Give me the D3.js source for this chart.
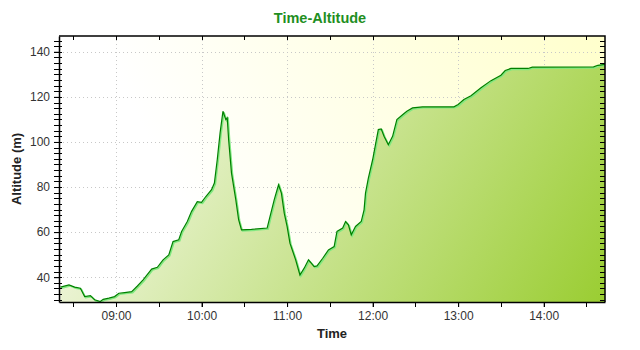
<!DOCTYPE html>
<html>
<head>
<meta charset="utf-8">
<script src="https://cdn.jsdelivr.net/npm/d3@7"></script>
<style>
    body { margin: 0; background: #ffffff; }
    text { font-family: "Liberation Sans", Arial, sans-serif; }
</style>
</head>
<body>
<div id="chart"></div>
<script>
// data
var times = ["08:21", "08:27", "08:31", "08:35", "08:38", "08:42", "08:45", "08:49", "08:51", "08:55",
    "08:59", "09:02", "09:06", "09:11", "09:15", "09:19", "09:25", "09:29", "09:33", "09:37",
    "09:40", "09:44", "09:46", "09:50", "09:53", "09:57", "10:00", "10:03", "10:07", "10:09",
    "10:11", "10:13", "10:15", "10:17", "10:18", "10:19", "10:21", "10:24", "10:26", "10:28",
    "10:35", "10:46", "10:48", "10:51", "10:53", "10:54", "10:56", "10:58", "11:00", "11:02",
    "11:06", "11:09", "11:12", "11:15", "11:19", "11:21", "11:25", "11:29", "11:33", "11:35",
    "11:39", "11:41", "11:43", "11:45", "11:48", "11:52", "11:54", "11:55", "11:57", "12:00",
    "12:02", "12:04", "12:06", "12:08", "12:11", "12:14", "12:17", "12:21", "12:24", "12:28",
    "12:35", "12:45", "12:57", "13:00", "13:04", "13:09", "13:16", "13:23", "13:30", "13:33",
    "13:37", "13:49", "13:52", "14:35", "14:38", "14:43"];
var altitudes = [35.6, 36.6, 35.6, 35.1, 31.4, 31.8, 30.0, 29.2, 30.2, 30.7,
    31.4, 32.9, 33.2, 33.6, 36.1, 38.8, 43.6, 44.4, 47.7, 49.9,
    55.8, 56.6, 60.3, 64.7, 69.2, 73.5, 73.2, 75.8, 78.8, 81.8,
    92.1, 104, 113.6, 109.9, 110.7, 101, 86.2, 74.4, 65.5, 61,
    61.2, 61.8, 66.9, 74.4, 78.8, 81, 77.3, 68.4, 62.5, 55.1,
    47.7, 41, 44, 47.7, 44.7, 45, 48.4, 52.1, 53.6, 60.3,
    61.8, 64.7, 63.2, 58.8, 62.5, 64.7, 69.9, 77.3, 84, 92.1,
    98.8, 105.5, 105.8, 102.5, 98.8, 102.5, 109.9, 112.1, 113.6, 115.1,
    115.6, 115.6, 115.6, 116.6, 118.8, 120.5, 124, 127.2, 129.6, 131.7,
    132.6, 132.6, 133.2, 133.3, 134, 134.4];
var timeRange = ["08:20", "14:43"];
var altRange = [29, 147];
var yTicks = [40, 60, 80, 100, 120, 140];

var w = 640;
var h = 350;
var plotL = 59, plotR = 605, plotT = 36, plotB = 302;

var parseTime = d3.timeParse("%H:%M");
var dataset = times.map(function (t, i) {
    return { time: parseTime(t), alt: altitudes[i] };
});

var svg = d3.select("#chart").append("svg")
    .attr("width", w)
    .attr("height", h);

var x = d3.scaleTime()
    .domain(timeRange.map(parseTime))
    .range([plotL, plotR]);
var y = d3.scaleLinear()
    .domain(altRange)
    .range([plotB, plotT]);

var defs = svg.append("defs");
var bgGrad = defs.append("linearGradient")
    .attr("id", "bgGrad")
    .attr("gradientUnits", "userSpaceOnUse")
    .attr("x1", plotL).attr("y1", plotB)
    .attr("x2", plotR).attr("y2", plotT);
bgGrad.append("stop").attr("offset", "0.25").attr("stop-color", "#ffffff");
bgGrad.append("stop").attr("offset", "1").attr("stop-color", "#ffffcc");

var areaGrad = defs.append("linearGradient")
    .attr("id", "areaGrad")
    .attr("gradientUnits", "userSpaceOnUse")
    .attr("x1", plotL + 100).attr("y1", plotT)
    .attr("x2", plotR).attr("y2", plotB);
areaGrad.append("stop").attr("offset", "0").attr("stop-color", "#f2f7e2");
areaGrad.append("stop").attr("offset", "1").attr("stop-color", "#9acd32");

defs.append("clipPath").attr("id", "plotClip")
    .append("rect")
    .attr("x", plotL).attr("y", plotT)
    .attr("width", plotR - plotL).attr("height", plotB - plotT);

// plot background
svg.append("rect")
    .attr("x", plotL).attr("y", plotT)
    .attr("width", plotR - plotL).attr("height", plotB - plotT)
    .attr("fill", "url(#bgGrad)");

// grid lines
var hourTicks = x.ticks(d3.timeHour.every(1));
var halfTicks = x.ticks(d3.timeMinute.every(30));
var minorY = d3.range(30, 147.5, 2.5);

svg.append("g").selectAll("line")
    .data(hourTicks)
    .enter()
    .append("line")
    .attr("x1", function (d) { return Math.round(x(d)) + 0.5; })
    .attr("x2", function (d) { return Math.round(x(d)) + 0.5; })
    .attr("y1", plotT)
    .attr("y2", plotB)
    .attr("stroke", "#c8c8c8")
    .attr("stroke-dasharray", "1,3");
svg.append("g").selectAll("line")
    .data(yTicks)
    .enter()
    .append("line")
    .attr("x1", plotL)
    .attr("x2", plotR)
    .attr("y1", function (d) { return Math.round(y(d)) + 0.5; })
    .attr("y2", function (d) { return Math.round(y(d)) + 0.5; })
    .attr("stroke", "#c8c8c8")
    .attr("stroke-dasharray", "1,3");

// area and lines
var area = d3.area()
    .x(function (d) { return x(d.time); })
    .y0(plotB)
    .y1(function (d) { return y(d.alt); });
var line = d3.line()
    .x(function (d) { return x(d.time); })
    .y(function (d) { return y(d.alt); });

var plot = svg.append("g").attr("clip-path", "url(#plotClip)");
plot.append("path")
    .datum(dataset)
    .attr("d", area)
    .attr("fill", "url(#areaGrad)");
plot.append("path")
    .datum(dataset)
    .attr("d", line)
    .attr("transform", "translate(1,1)")
    .attr("fill", "none")
    .attr("stroke", "#80e880")
    .attr("stroke-width", 1.6);
plot.append("path")
    .datum(dataset)
    .attr("d", line)
    .attr("fill", "none")
    .attr("stroke", "#008000")
    .attr("stroke-width", 1.2);

// axes
var xAxis = d3.axisBottom(x)
    .tickValues(hourTicks)
    .tickFormat(d3.timeFormat("%H:%M"))
    .tickSize(5)
    .tickSizeOuter(0)
    .tickPadding(4);
var gx = svg.append("g")
    .attr("transform", "translate(0," + plotB + ")")
    .call(xAxis);

var yAxis = d3.axisLeft(y)
    .tickValues(yTicks)
    .tickSize(5)
    .tickSizeOuter(0)
    .tickPadding(4);
var gy = svg.append("g")
    .attr("transform", "translate(" + plotL + ",0)")
    .call(yAxis);

[gx, gy].forEach(function (g) {
    g.selectAll("text")
        .attr("font-family", "'Liberation Sans', Arial, sans-serif")
        .attr("font-size", "12px")
        .attr("fill", "#333333");
    g.select(".domain").attr("stroke", "#000").attr("stroke-width", 1.5);
    g.selectAll(".tick line").attr("stroke", "#000");
});

// minor ticks
svg.append("g").selectAll("line")
    .data(halfTicks)
    .enter()
    .append("line")
    .attr("x1", function (d) { return Math.round(x(d)) + 0.5; })
    .attr("x2", function (d) { return Math.round(x(d)) + 0.5; })
    .attr("y1", plotB)
    .attr("y2", plotB + 5)
    .attr("stroke", "#000");
svg.append("g").selectAll("line")
    .data(halfTicks)
    .enter()
    .append("line")
    .attr("x1", function (d) { return Math.round(x(d)) + 0.5; })
    .attr("x2", function (d) { return Math.round(x(d)) + 0.5; })
    .attr("y1", plotT)
    .attr("y2", plotT + 4)
    .attr("stroke", "#000");
svg.append("g").selectAll("line")
    .data(minorY)
    .enter()
    .append("line")
    .attr("x1", plotL - 5)
    .attr("x2", plotL + 3)
    .attr("y1", function (d) { return Math.round(y(d)) + 0.5; })
    .attr("y2", function (d) { return Math.round(y(d)) + 0.5; })
    .attr("stroke", "#000");
svg.append("g").selectAll("line")
    .data(minorY)
    .enter()
    .append("line")
    .attr("x1", plotR - 5)
    .attr("x2", plotR)
    .attr("y1", function (d) { return Math.round(y(d)) + 0.5; })
    .attr("y2", function (d) { return Math.round(y(d)) + 0.5; })
    .attr("stroke", "#000");

// top and right border
svg.append("path")
    .attr("d", "M" + plotL + "," + plotT + "H" + plotR + "V" + plotB)
    .attr("fill", "none")
    .attr("stroke", "#000")
    .attr("stroke-width", 1.5);

// titles
svg.append("text")
    .attr("x", 320)
    .attr("y", 23)
    .attr("text-anchor", "middle")
    .attr("font-size", "14.5px")
    .attr("font-weight", "bold")
    .attr("fill", "#1f8f1f")
    .text("Time-Altitude");
svg.append("text")
    .attr("x", (plotL + plotR) / 2)
    .attr("y", 338)
    .attr("text-anchor", "middle")
    .attr("font-size", "13px")
    .attr("font-weight", "bold")
    .attr("fill", "#222")
    .text("Time");
svg.append("text")
    .attr("transform", "translate(21," + (plotT + plotB) / 2 + ") rotate(-90)")
    .attr("text-anchor", "middle")
    .attr("font-size", "13px")
    .attr("font-weight", "bold")
    .attr("fill", "#222")
    .text("Altitude (m)");
</script>
</body>
</html>
